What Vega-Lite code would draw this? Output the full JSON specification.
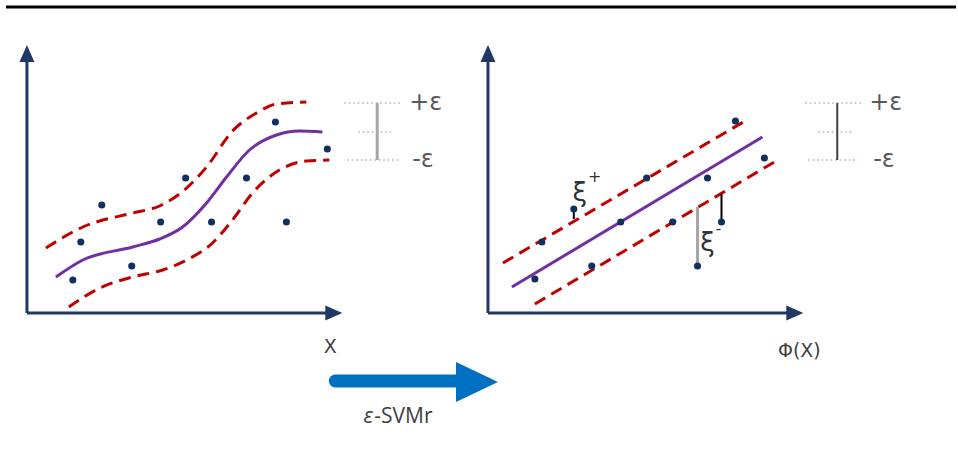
{
  "$schema": "https://vega.github.io/schema/vega-lite/v6.json",
  "width": 958,
  "height": 451,
  "autosize": {"type": "fit", "contains": "padding"},
  "padding": 0,
  "background": "white",
  "config": {"view": {"stroke": null}},
  "datasets": {
    "topline": [{"x": 6, "y": 7, "x2": 958, "y2": 7}],
    "axes": [
      {"x": 27, "y": 58, "x2": 27, "y2": 313},
      {"x": 27, "y": 313, "x2": 332, "y2": 313},
      {"x": 489, "y": 58, "x2": 489, "y2": 313},
      {"x": 489, "y": 313, "x2": 794, "y2": 313}
    ],
    "arrowUp": [{"x": 27, "y": 53.5}, {"x": 489, "y": 53.5}],
    "arrowRight": [{"x": 334.5, "y": 313}, {"x": 796.5, "y": 313}],
    "leftFit": [
      {"x": 56, "y": 277}, {"x": 83, "y": 260}, {"x": 133, "y": 247}, {"x": 160, "y": 239},
      {"x": 183, "y": 227}, {"x": 207, "y": 203}, {"x": 227, "y": 177}, {"x": 250, "y": 150},
      {"x": 277, "y": 135}, {"x": 300, "y": 131}, {"x": 323, "y": 132}
    ],
    "leftBand": [
      {"s": "upper", "x": 46, "y": 248}, {"s": "upper", "x": 83, "y": 227}, {"s": "upper", "x": 133, "y": 213},
      {"s": "upper", "x": 160, "y": 206}, {"s": "upper", "x": 187, "y": 188}, {"s": "upper", "x": 207, "y": 167},
      {"s": "upper", "x": 233, "y": 131}, {"s": "upper", "x": 257, "y": 113}, {"s": "upper", "x": 277, "y": 104},
      {"s": "upper", "x": 307, "y": 102},
      {"s": "lower", "x": 69, "y": 307}, {"s": "lower", "x": 100, "y": 288}, {"s": "lower", "x": 133, "y": 277},
      {"s": "lower", "x": 163, "y": 270}, {"s": "lower", "x": 187, "y": 260}, {"s": "lower", "x": 213, "y": 243},
      {"s": "lower", "x": 233, "y": 220}, {"s": "lower", "x": 253, "y": 193}, {"s": "lower", "x": 280, "y": 170},
      {"s": "lower", "x": 307, "y": 161}, {"s": "lower", "x": 330, "y": 160}
    ],
    "rightFit": [{"x": 513, "y": 287, "x2": 764, "y2": 137}],
    "rightBand": [
      {"x": 504, "y": 263, "x2": 750, "y2": 119},
      {"x": 536, "y": 304, "x2": 781, "y2": 159}
    ],
    "slackBlack": [
      {"x": 575, "y": 209, "x2": 575, "y2": 219},
      {"x": 723, "y": 222, "x2": 723, "y2": 194}
    ],
    "slackGray": [{"x": 699, "y": 266, "x2": 699, "y2": 207}],
    "points": [
      {"x": 73, "y": 280}, {"x": 81, "y": 242}, {"x": 102, "y": 205}, {"x": 132, "y": 266},
      {"x": 161, "y": 222}, {"x": 186, "y": 178}, {"x": 212, "y": 222}, {"x": 247, "y": 178},
      {"x": 276, "y": 122}, {"x": 287, "y": 222}, {"x": 328, "y": 149},
      {"x": 536, "y": 279}, {"x": 543, "y": 242}, {"x": 575, "y": 209}, {"x": 593, "y": 266},
      {"x": 622, "y": 222}, {"x": 648, "y": 178}, {"x": 674, "y": 222}, {"x": 699, "y": 266},
      {"x": 709, "y": 178}, {"x": 723, "y": 222}, {"x": 737, "y": 121}, {"x": 766, "y": 158}
    ],
    "guides": [
      {"x": 345, "y": 103, "x2": 402, "y2": 103},
      {"x": 359, "y": 132, "x2": 392, "y2": 132},
      {"x": 348, "y": 160, "x2": 400, "y2": 160},
      {"x": 807, "y": 103, "x2": 863, "y2": 103},
      {"x": 820, "y": 132, "x2": 855, "y2": 132},
      {"x": 810, "y": 160, "x2": 860, "y2": 160}
    ],
    "barGray": [{"x": 378, "y": 103, "x2": 378, "y2": 160}],
    "barDark": [{"x": 839, "y": 103, "x2": 839, "y2": 160}],
    "epsLabels": [
      {"x": 410, "y": 103, "t": "+ε"},
      {"x": 413, "y": 160, "t": "-ε"},
      {"x": 871, "y": 103, "t": "+ε"},
      {"x": 875, "y": 160, "t": "-ε"}
    ],
    "axisLabels": [
      {"x": 331, "y": 347, "t": "X"},
      {"x": 801, "y": 351, "t": "Φ(X)"}
    ],
    "xi": [
      {"x": 581, "y": 193, "t": "ξ"},
      {"x": 709, "y": 243, "t": "ξ"}
    ],
    "xiSup": [
      {"x": 596, "y": 177, "t": "+"},
      {"x": 720, "y": 229, "t": "-"}
    ],
    "bigArrowShaft": [{"x": 336, "y": 381, "x2": 462, "y2": 381}],
    "bigArrowHead": [{"x": 478, "y": 382}],
    "captionEps": [{"x": 369, "y": 417, "t": "ε"}],
    "caption": [{"x": 375, "y": 417, "t": "-SVMr"}]
  },
  "encoding": {
    "x": {"field": "x", "type": "quantitative", "axis": null, "scale": {"domain": [0, 958], "nice": false, "zero": false}},
    "y": {"field": "y", "type": "quantitative", "axis": null, "scale": {"domain": [0, 451], "reverse": true, "nice": false, "zero": false}}
  },
  "layer": [
    {"data": {"name": "topline"}, "mark": {"type": "rule", "color": "#000000", "strokeWidth": 3},
     "encoding": {"x2": {"field": "x2"}, "y2": {"field": "y2"}}},
    {"data": {"name": "guides"}, "mark": {"type": "rule", "color": "#B0B0B0", "strokeWidth": 1.3, "strokeDash": [1.5, 3]},
     "encoding": {"x2": {"field": "x2"}, "y2": {"field": "y2"}}},
    {"data": {"name": "barGray"}, "mark": {"type": "rule", "color": "#A6A6A6", "strokeWidth": 3},
     "encoding": {"x2": {"field": "x2"}, "y2": {"field": "y2"}}},
    {"data": {"name": "barDark"}, "mark": {"type": "rule", "color": "#404040", "strokeWidth": 2},
     "encoding": {"x2": {"field": "x2"}, "y2": {"field": "y2"}}},
    {"data": {"name": "axes"}, "mark": {"type": "rule", "color": "#1F3864", "strokeWidth": 3},
     "encoding": {"x2": {"field": "x2"}, "y2": {"field": "y2"}}},
    {"data": {"name": "arrowUp"}, "mark": {"type": "point", "filled": true, "color": "#1F3864", "opacity": 1, "size": 289, "shape": "M0,-1L0.88,1L-0.88,1Z"}},
    {"data": {"name": "arrowRight"}, "mark": {"type": "point", "filled": true, "color": "#1F3864", "opacity": 1, "size": 289, "shape": "M1,0L-1,0.88L-1,-0.88Z"}},
    {"data": {"name": "leftBand"}, "mark": {"type": "line", "color": "#C00000", "strokeWidth": 3, "strokeDash": [12, 7], "interpolate": "monotone"},
     "encoding": {"detail": {"field": "s"}}},
    {"data": {"name": "leftFit"}, "mark": {"type": "line", "color": "#7030A0", "strokeWidth": 3, "interpolate": "monotone"}},
    {"data": {"name": "rightBand"}, "mark": {"type": "rule", "color": "#C00000", "strokeWidth": 3, "strokeDash": [12, 7]},
     "encoding": {"x2": {"field": "x2"}, "y2": {"field": "y2"}}},
    {"data": {"name": "rightFit"}, "mark": {"type": "rule", "color": "#7030A0", "strokeWidth": 3},
     "encoding": {"x2": {"field": "x2"}, "y2": {"field": "y2"}}},
    {"data": {"name": "slackGray"}, "mark": {"type": "rule", "color": "#A6A6A6", "strokeWidth": 3},
     "encoding": {"x2": {"field": "x2"}, "y2": {"field": "y2"}}},
    {"data": {"name": "slackBlack"}, "mark": {"type": "rule", "color": "#000000", "strokeWidth": 2},
     "encoding": {"x2": {"field": "x2"}, "y2": {"field": "y2"}}},
    {"data": {"name": "points"}, "mark": {"type": "circle", "color": "#12305F", "opacity": 1, "size": 50}},
    {"data": {"name": "epsLabels"}, "mark": {"type": "text", "align": "left", "baseline": "middle", "font": "DejaVu Sans", "fontSize": 24, "color": "#595959"},
     "encoding": {"text": {"field": "t"}}},
    {"data": {"name": "axisLabels"}, "mark": {"type": "text", "align": "center", "baseline": "middle", "font": "DejaVu Sans", "fontSize": 19, "color": "#404040"},
     "encoding": {"text": {"field": "t"}}},
    {"data": {"name": "xi"}, "mark": {"type": "text", "align": "center", "baseline": "middle", "font": "DejaVu Sans", "fontSize": 26, "color": "#333333"},
     "encoding": {"text": {"field": "t"}}},
    {"data": {"name": "xiSup"}, "mark": {"type": "text", "align": "center", "baseline": "middle", "font": "DejaVu Sans", "fontSize": 16, "color": "#333333"},
     "encoding": {"text": {"field": "t"}}},
    {"data": {"name": "bigArrowShaft"}, "mark": {"type": "rule", "color": "#0070C0", "strokeWidth": 13, "strokeCap": "round"},
     "encoding": {"x2": {"field": "x2"}, "y2": {"field": "y2"}}},
    {"data": {"name": "bigArrowHead"}, "mark": {"type": "point", "filled": true, "color": "#0070C0", "opacity": 1, "size": 1764, "shape": "M1,0L-1,0.95L-1,-0.95Z"}},
    {"data": {"name": "captionEps"}, "mark": {"type": "text", "align": "center", "baseline": "middle", "font": "Open Sans", "fontStyle": "italic", "fontSize": 21, "color": "#404040"},
     "encoding": {"text": {"field": "t"}}},
    {"data": {"name": "caption"}, "mark": {"type": "text", "align": "left", "baseline": "middle", "font": "Open Sans", "fontSize": 21, "color": "#404040"},
     "encoding": {"text": {"field": "t"}}}
  ]
}
